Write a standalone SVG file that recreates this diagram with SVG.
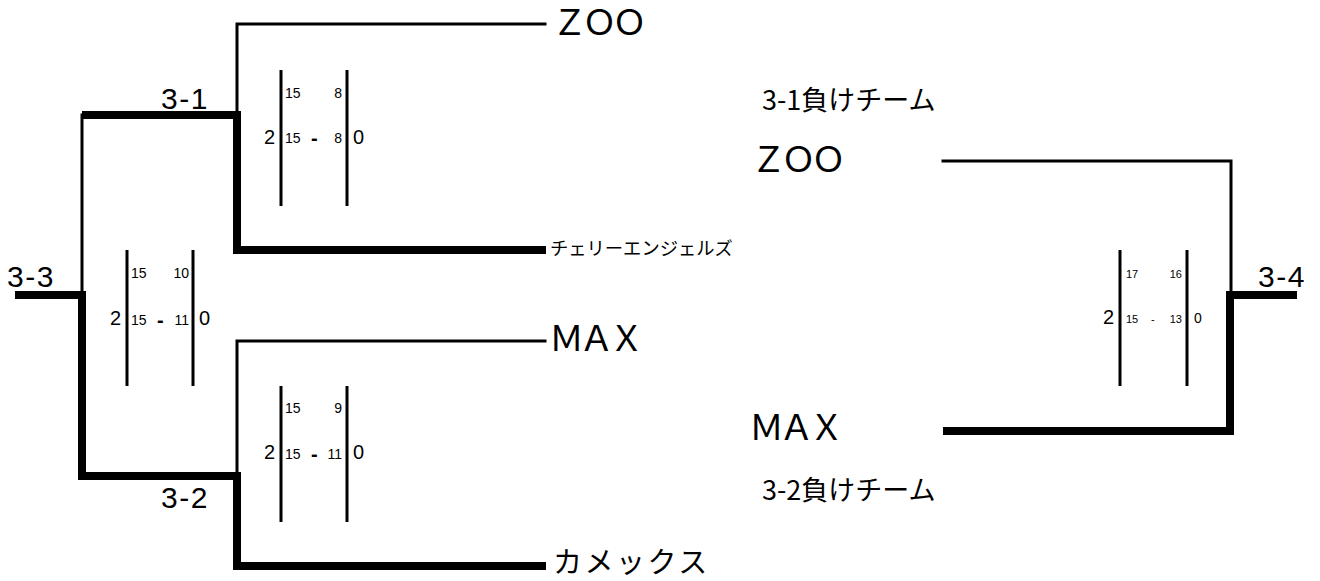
<svg xmlns="http://www.w3.org/2000/svg" width="1320" height="581" viewBox="0 0 1320 581">
<style>
.thin{fill:none;stroke:#000;stroke-width:3;stroke-linecap:square}
.thick{fill:none;stroke:#000;stroke-width:8;stroke-linejoin:miter;stroke-linecap:butt}
.bar{stroke:#000;stroke-width:3}
.rnd{font-family:"Liberation Sans",Arial,sans-serif;font-size:30px;letter-spacing:1.5px;fill:#000}
.team{font-family:"Liberation Sans","Noto Sans CJK JP",sans-serif;font-size:35px;letter-spacing:-5px;fill:#000}
.jp{font-family:"Noto Sans CJK JP",sans-serif;fill:#000}
.s{font-family:"Liberation Sans",Arial,sans-serif;font-size:14px;fill:#000}
.b{font-family:"Liberation Sans",Arial,sans-serif;font-size:20px;fill:#000}
.d{font-family:"Liberation Sans",Arial,sans-serif;font-size:20px;font-weight:bold;fill:#000}
.s2{font-family:"Liberation Sans",Arial,sans-serif;font-size:11px;fill:#000}
.b2{font-family:"Liberation Sans",Arial,sans-serif;font-size:14px;fill:#000}
</style>
<g id="connectors">
<path class="thin" d="M237,115 V24 H545"/>
<path class="thin" d="M82,115 V295"/>
<path class="thin" d="M237,476 V341 H545"/>
<path class="thick" d="M82,115 H237 V250 H546"/>
<path class="thick" d="M15,295 H82 V476 H237 V566 H546"/>
<path class="thin" d="M943,161 H1231 V295"/>
<path class="thick" d="M943,431 H1230 V295 H1297"/>
</g>
<g id="round-3-1"><text class="rnd" x="161" y="109">3-1</text></g>
<g id="round-3-2"><text class="rnd" x="161" y="508">3-2</text></g>
<g id="round-3-3"><text class="rnd" x="7" y="287">3-3</text></g>
<g id="round-3-4"><text class="rnd" x="1258" y="287">3-4</text></g>
<g id="team-zoo-1"><text class="team" x="552" y="35">ＺＯＯ</text></g>
<g id="team-cherry"><text class="jp" x="550" y="255" font-size="18.3">チェリーエンジェルズ</text></g>
<g id="team-max-1"><text class="team" x="549" y="351">ＭＡＸ</text></g>
<g id="team-kamex"><text class="jp" x="553" y="573" font-size="29" letter-spacing="2.5">カメックス</text></g>
<g id="loser-3-1"><text class="jp" x="762" y="110" font-size="27">3-1負けチーム</text></g>
<g id="team-zoo-2"><text class="team" x="751" y="172">ＺＯＯ</text></g>
<g id="team-max-2"><text class="team" x="749" y="440">ＭＡＸ</text></g>
<g id="loser-3-2"><text class="jp" x="762" y="500" font-size="27">3-2負けチーム</text></g>
<g id="score-3-1">
<line class="bar" x1="281" y1="70" x2="281" y2="206"/>
<line class="bar" x1="347" y1="70" x2="347" y2="206"/>
<text class="s" x="285" y="98">15</text>
<text class="s" x="342" y="98" text-anchor="end">8</text>
<text class="b" x="264" y="144">2</text>
<text class="s" x="285" y="143">15</text>
<text class="d" x="311" y="145">-</text>
<text class="s" x="342" y="143" text-anchor="end">8</text>
<text class="b" x="353" y="144">0</text>
</g>
<g id="score-3-3">
<line class="bar" x1="127" y1="250" x2="127" y2="386"/>
<line class="bar" x1="193" y1="250" x2="193" y2="386"/>
<text class="s" x="131" y="278">15</text>
<text class="s" x="189" y="278" text-anchor="end">10</text>
<text class="b" x="110" y="325">2</text>
<text class="s" x="131" y="325">15</text>
<text class="d" x="157" y="327">-</text>
<text class="s" x="189" y="325" text-anchor="end">11</text>
<text class="b" x="199" y="325">0</text>
</g>
<g id="score-3-2">
<line class="bar" x1="281" y1="386" x2="281" y2="522"/>
<line class="bar" x1="347" y1="386" x2="347" y2="522"/>
<text class="s" x="285" y="413">15</text>
<text class="s" x="342" y="413" text-anchor="end">9</text>
<text class="b" x="264" y="459">2</text>
<text class="s" x="285" y="459">15</text>
<text class="d" x="311" y="461">-</text>
<text class="s" x="342" y="459" text-anchor="end">11</text>
<text class="b" x="353" y="459">0</text>
</g>
<g id="score-3-4">
<line class="bar" x1="1120" y1="250" x2="1120" y2="386"/>
<line class="bar" x1="1187" y1="250" x2="1187" y2="386"/>
<text class="s2" x="1126" y="278">17</text>
<text class="s2" x="1182" y="278" text-anchor="end">16</text>
<text class="b" x="1103" y="324">2</text>
<text class="s2" x="1126" y="323">15</text>
<text class="s2" x="1151" y="323">-</text>
<text class="s2" x="1182" y="323" text-anchor="end">13</text>
<text class="b2" x="1194" y="323">0</text>
</g>
</svg>
